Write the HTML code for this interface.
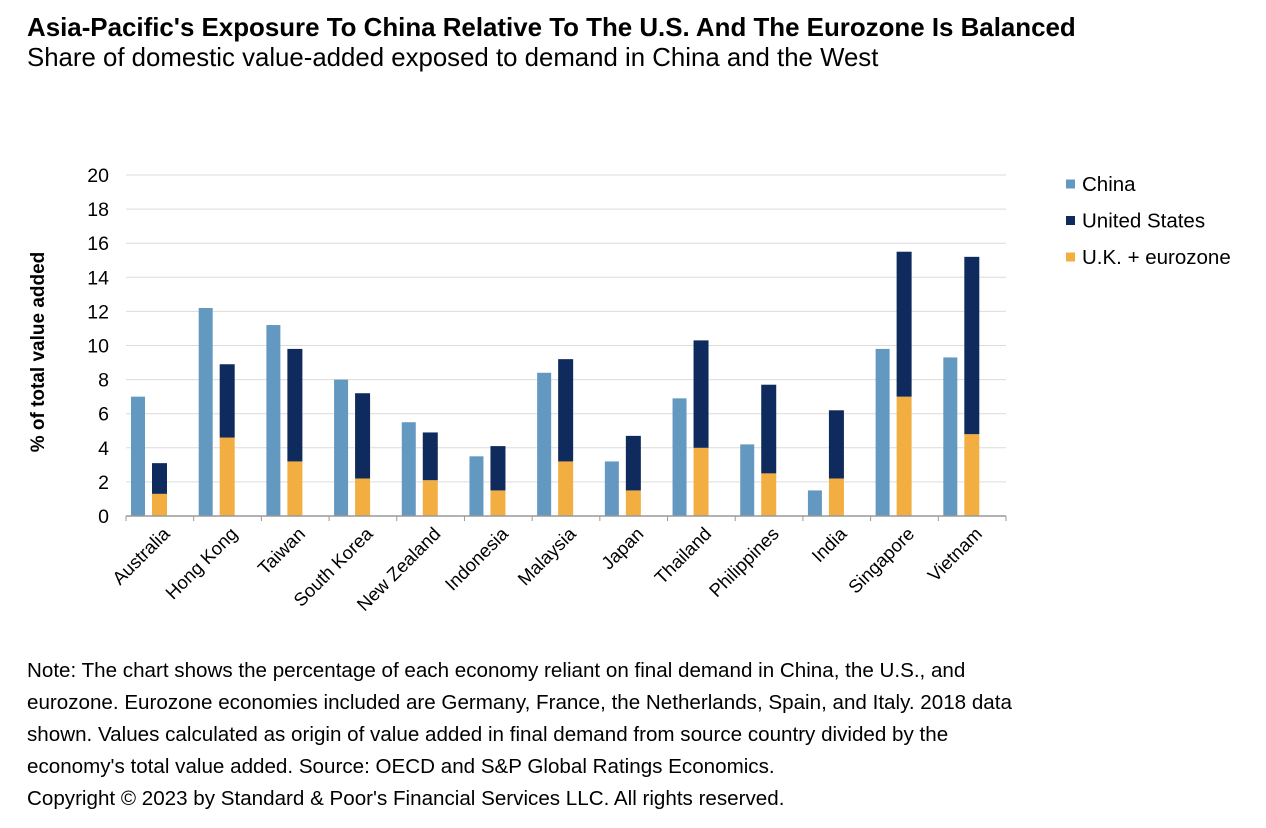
<!DOCTYPE html>
<html><head><meta charset="utf-8"><style>
body{margin:0;background:#fff;font-family:"Liberation Sans",Arial,sans-serif;}
#wrap{position:relative;width:1266px;height:828px;overflow:hidden;}
.title{position:absolute;left:27px;top:14px;font-size:25.9px;font-weight:bold;color:#000;white-space:nowrap;}
.sub{position:absolute;left:27px;top:44px;font-size:25.8px;color:#000;white-space:nowrap;}
.note{position:absolute;left:27px;top:655px;width:1100px;font-size:20.6px;line-height:32px;color:#000;white-space:nowrap;}
</style></head><body>
<div id="wrap">
<div class="title">Asia-Pacific's Exposure To China Relative To The U.S. And The Eurozone Is Balanced</div>
<div class="sub">Share of domestic value-added exposed to demand in China and the West</div>
<svg id="chart" width="1266" height="828" style="position:absolute;left:0;top:0"></svg>
<div class="note">Note: The chart shows the percentage of each economy reliant on final demand in China, the U.S., and<br>eurozone. Eurozone economies included are Germany, France, the Netherlands, Spain, and Italy. 2018 data<br>shown. Values calculated as origin of value added in final demand from source country divided by the<br>economy's total value added. Source: OECD and S&amp;P Global Ratings Economics.<br>Copyright © 2023 by Standard &amp; Poor's Financial Services LLC. All rights reserved.</div>
</div>
<script>
const categories=["Australia","Hong Kong","Taiwan","South Korea","New Zealand","Indonesia","Malaysia","Japan","Thailand","Philippines","India","Singapore","Vietnam"];
const chinaValues=[7.0,12.2,11.2,8.0,5.5,3.5,8.4,3.2,6.9,4.2,1.5,9.8,9.3];
const usValues=[1.8,4.3,6.6,5.0,2.8,2.6,6.0,3.2,6.3,5.2,4.0,8.5,10.4];
const euValues=[1.3,4.6,3.2,2.2,2.1,1.5,3.2,1.5,4.0,2.5,2.2,7.0,4.8];
const yTicks=[0,2,4,6,8,10,12,14,16,18,20];
const legendLabels=["China","United States","U.K. + eurozone"];
const colors=["#6399c0","#0f2a5c","#f3ae42"];

const NS="http://www.w3.org/2000/svg";
const svg=document.getElementById('chart');
const x0=126,x1=1006,y0=516,y1=175,yMax=20;
const bw=(x1-x0)/categories.length;
const y=v=>y0-(v/yMax)*(y0-y1);
function mk(t,a){const e=document.createElementNS(NS,t);for(const k in a)e.setAttribute(k,a[k]);svg.appendChild(e);return e;}
yTicks.forEach(t=>{
  if(t>0){const g=mk('line',{x1:x0,x2:x1,y1:y(t),y2:y(t),stroke:'#dcdcdc','stroke-width':1});
  
  }
  const l=mk('text',{x:109,y:y(t)+7,'text-anchor':'end','font-size':19.5,fill:'#000'});
  l.textContent=t;
  
  
});
categories.forEach((c,i)=>{
  const gx=x0+i*bw;
  const cb=mk('rect',{x:gx+5,y:y(chinaValues[i]),width:14,height:y0-y(chinaValues[i]),fill:colors[0]});
  
  
  const eb=mk('rect',{x:gx+26,y:y(euValues[i]),width:15,height:y0-y(euValues[i]),fill:colors[2]});
  
  
  const tot=euValues[i]+usValues[i];
  const ub=mk('rect',{x:gx+26,y:y(tot),width:15,height:y(euValues[i])-y(tot),fill:colors[1]});
  
  
  const tk=mk('line',{x1:gx,x2:gx,y1:y0,y2:y0+5,stroke:'#999'});
  
  
  const cx=gx+bw/2+11,cy=y0+19;
  const l=mk('text',{x:cx,y:cy,'text-anchor':'end','font-size':18.5,fill:'#000',transform:`rotate(-45 ${cx} ${cy})`});
  l.textContent=c;
  
  
});
const et=mk('line',{x1:x1,x2:x1,y1:y0,y2:y0+5,stroke:'#999'});


const ax=mk('line',{x1:x0,x2:x1,y1:y0,y2:y0,stroke:'#999','stroke-width':1.5});


const yt=mk('text',{x:44,y:352,'text-anchor':'middle','font-size':19,'font-weight':'bold',fill:'#000',transform:'rotate(-90 44 352)'});
yt.textContent='% of total value added';


legendLabels.forEach((t,i)=>{
  const ly=184+i*36.5;
  const s=mk('rect',{x:1066,y:ly-4.5,width:9,height:9,fill:colors[i]});
  
  
  const l=mk('text',{x:1082,y:ly+7,'font-size':20.5,fill:'#000'});
  l.textContent=t;
  
  
});
</script>
</body></html>
